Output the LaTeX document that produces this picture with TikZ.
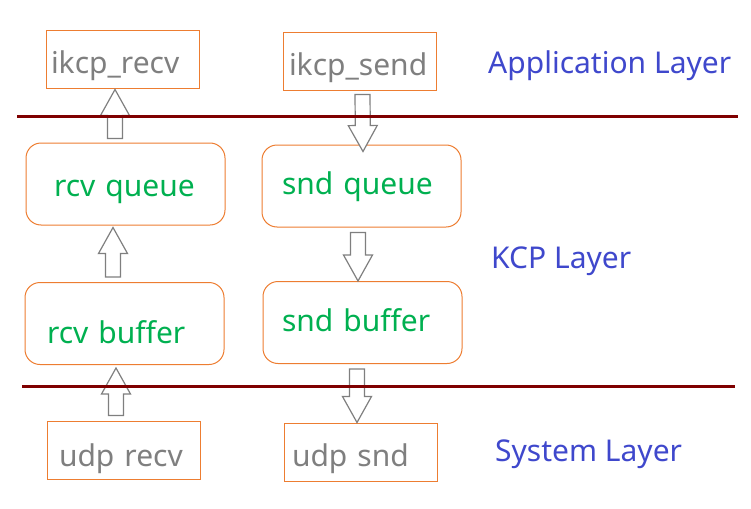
\documentclass[tikz,border=0pt]{standalone}
\usepackage{fontspec}
\setmainfont{Noto Sans}
\usepackage{tikz}
\usetikzlibrary{calc}

\definecolor{boxorange}{RGB}{237,125,49}
\definecolor{txtgray}{RGB}{127,127,127}
\definecolor{txtgreen}{RGB}{0,176,80}
\definecolor{layerblue}{RGB}{63,72,204}
\definecolor{linered}{RGB}{127,0,0}

\newcommand{\shaftw}{7.5pt}
\newcommand{\headw}{14.5pt}
\newcommand{\headlen}{26pt}
% block arrow from #1 (tail) to #2 (tip)
\newcommand{\blockarrow}[2]{%
  \coordinate (ba-t) at #1;
  \coordinate (ba-h) at #2;
  \coordinate (ba-b) at ($(ba-h)!\headlen!(ba-t)$);
  \draw[blk] ($(ba-t)!\shaftw!90:(ba-h)$) -- ($(ba-b)!\shaftw!-90:(ba-t)$)
    -- ($(ba-b)!\headw!-90:(ba-t)$) -- (ba-h) -- ($(ba-b)!\headw!90:(ba-t)$)
    -- ($(ba-b)!\shaftw!90:(ba-t)$) -- ($(ba-t)!\shaftw!-90:(ba-h)$) -- cycle;}

\begin{document}
\begin{tikzpicture}[
  x=1pt, y=-1pt,
  font=\fontsize{30}{34}\selectfont,
  api/.style 2 args={draw=boxorange, line width=1pt, minimum width=153pt, minimum height=58pt,
    text=txtgray, inner sep=0pt, align=left, text width=#1, text height=#2, text depth=8pt},
  buf/.style 2 args={draw=boxorange, line width=1pt, rounded corners=15pt, minimum width=199pt, minimum height=82pt,
    text=txtgreen, inner sep=0pt, align=left, text width=#1, text height=#2, text depth=8pt},
  layer/.style={text=layerblue, inner sep=0pt, anchor=base west},
  sep/.style={draw=linered, line width=3pt},
  blk/.style={draw=txtgray, fill=white, line width=1.2pt, line join=miter}
]
\useasboundingbox (0,0) rectangle (751,508);
% application layer
\node[api={143pt}{36pt}] (recv) at (122.5,60) {ikcp\_recv};
\node[api={141pt}{36pt}] (send) at (359.5,62) {ikcp\_send};
% kcp layer
\node[buf={143pt}{32pt}] (rq) at (125.5,184) {rcv queue};
\node[buf={159pt}{24pt}] (sq) at (361.5,186) {snd queue};
\node[buf={155pt}{47pt}] (rb) at (124.5,323.5) {rcv buffer};
\node[buf={161pt}{25pt}] (sb) at (362.5,322.5) {snd buffer};
% system layer
\node[api={129pt}{40pt}] (ur) at (123.5,450) {udp recv};
\node[api={137pt}{36pt}] (us) at (360.5,452) {udp snd};

\node[layer] (lapp) at (488,74) {Application Layer};
\node[layer] (lkcp) at (491,268) {KCP Layer};
\node[layer] (lsys) at (495,461) {System Layer};

% arrows
\blockarrow{($(rq.north)+(-10.5,-4)$)}{($(recv.south)+(-7.5,0)$)}
\blockarrow{($(send.south)+(3,3)$)}{($(sq.north)+(1.5,7)$)}
\blockarrow{($(rb.north)+(-11.5,-5)$)}{($(rq.south)+(-12.5,2)$)}
\blockarrow{($(sq.south)+(-3.5,5)$)}{($(sb.north)+(-4.5,0)$)}
\blockarrow{($(ur.north)+(-7.5,-5)$)}{($(rb.south)+(-8.5,3)$)}
\blockarrow{($(sb.south)+(-5.5,5)$)}{($(us.north)+(-3.5,0)$)}

% layer borders
\draw[sep] (17,116) -- (738,116);
\draw[sep] (22,386) -- (735,386);
\end{tikzpicture}
\end{document}
